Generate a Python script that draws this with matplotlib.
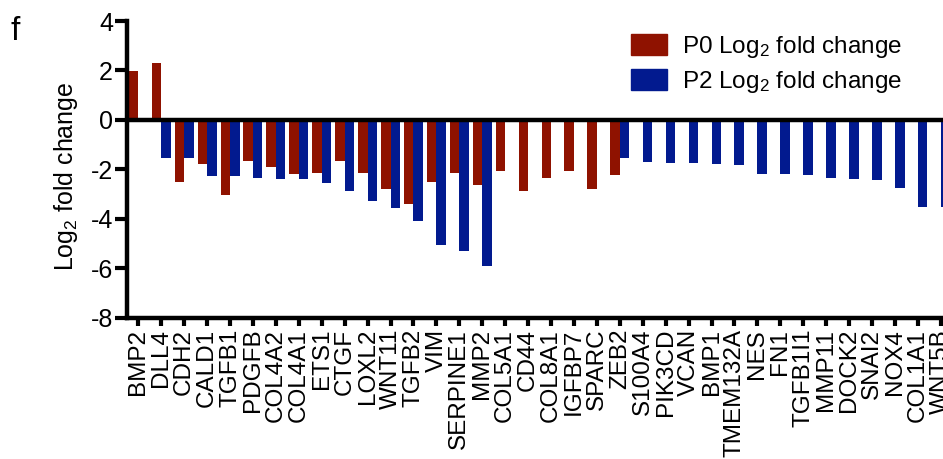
import numpy as np
import matplotlib
matplotlib.use("Agg")
import matplotlib.pyplot as plt
from matplotlib.patches import Patch

plt.rcParams['font.family'] = ['Liberation Sans', 'DejaVu Sans']
plt.rcParams['mathtext.fontset'] = 'custom'
plt.rcParams['mathtext.rm'] = 'Liberation Sans'
plt.rcParams['mathtext.it'] = 'Liberation Sans:italic'
plt.rcParams['axes.unicode_minus'] = False

genes = ['BMP2', 'DLL4', 'CDH2', 'CALD1', 'TGFB1', 'PDGFB', 'COL4A2', 'COL4A1',
         'ETS1', 'CTGF', 'LOXL2', 'WNT11', 'TGFB2', 'VIM', 'SERPINE1', 'MMP2',
         'COL5A1', 'CD44', 'COL8A1', 'IGFBP7', 'SPARC', 'ZEB2', 'S100A4', 'PIK3CD',
         'VCAN', 'BMP1', 'TMEM132A', 'NES', 'FN1', 'TGFB1I1', 'MMP11', 'DOCK2',
         'SNAI2', 'NOX4', 'COL1A1', 'WNT5B']

nan = np.nan
# P0 log2 fold change (red)
p0 = [1.97, 2.32, -2.53, -1.79, -3.04, -1.68, -1.91, -2.18,
      -2.13, -1.68, -2.15, -2.80, -3.39, -2.53, -2.13, -2.63,
      -2.06, -2.88, -2.33, -2.07, -2.80, -2.23, nan, nan,
      nan, nan, nan, nan, nan, nan, nan, nan,
      nan, nan, nan, nan]
# P2 log2 fold change (blue)
p2 = [nan, -1.52, -1.52, -2.27, -2.27, -2.35, -2.38, -2.40,
      -2.56, -2.89, -3.27, -3.55, -4.09, -5.05, -5.30, -5.90,
      nan, nan, nan, nan, nan, -1.56, -1.72, -1.75,
      -1.76, -1.79, -1.83, -2.17, -2.18, -2.21, -2.34, -2.40,
      -2.42, -2.77, -3.51, -3.51]

red = '#8F1200'
blue = '#021A8F'

fig = plt.figure(figsize=(9.43, 4.59), dpi=100)
ax = fig.add_axes([0.1345, 0.3078, 0.8754, 0.6464])

x = np.arange(len(genes))
w = 0.414
ax.bar(x - w / 2, p0, width=w, color=red, zorder=2)
ax.bar(x + w / 2, p2, width=w, color=blue, zorder=2)
ax.axhline(0, color='black', lw=3.2, zorder=3)

ax.set_xlim(-0.5, len(genes) - 0.5)
ax.set_ylim(-8, 4)
ax.set_yticks([-8, -6, -4, -2, 0, 2, 4])
ax.set_xticks(x)
ax.set_xticklabels(genes, rotation=90, fontsize=17.5)
ax.tick_params(axis='y', length=9, width=3, labelsize=18, pad=1)
ax.tick_params(axis='x', length=6, width=3, pad=2)

for s in ['top', 'right']:
    ax.spines[s].set_visible(False)
for s in ['left', 'bottom']:
    ax.spines[s].set_linewidth(3.2)

ax.set_ylabel('Log$_2$ fold change', fontsize=18)
ax.yaxis.set_label_coords(-0.057, 0.478)

handles = [Patch(color=red, label='P0 Log$_2$ fold change'),
           Patch(color=blue, label='P2 Log$_2$ fold change')]
ax.legend(handles=handles, loc='upper left', bbox_to_anchor=(0.584, 1.03),
          frameon=False, fontsize=17.5, handlelength=1.5, handleheight=0.95,
          handletextpad=0.6, labelspacing=0.38)

fig.text(0.011, 0.965, 'f', fontsize=24, va='top')

fig.savefig('out.png', dpi=100)
